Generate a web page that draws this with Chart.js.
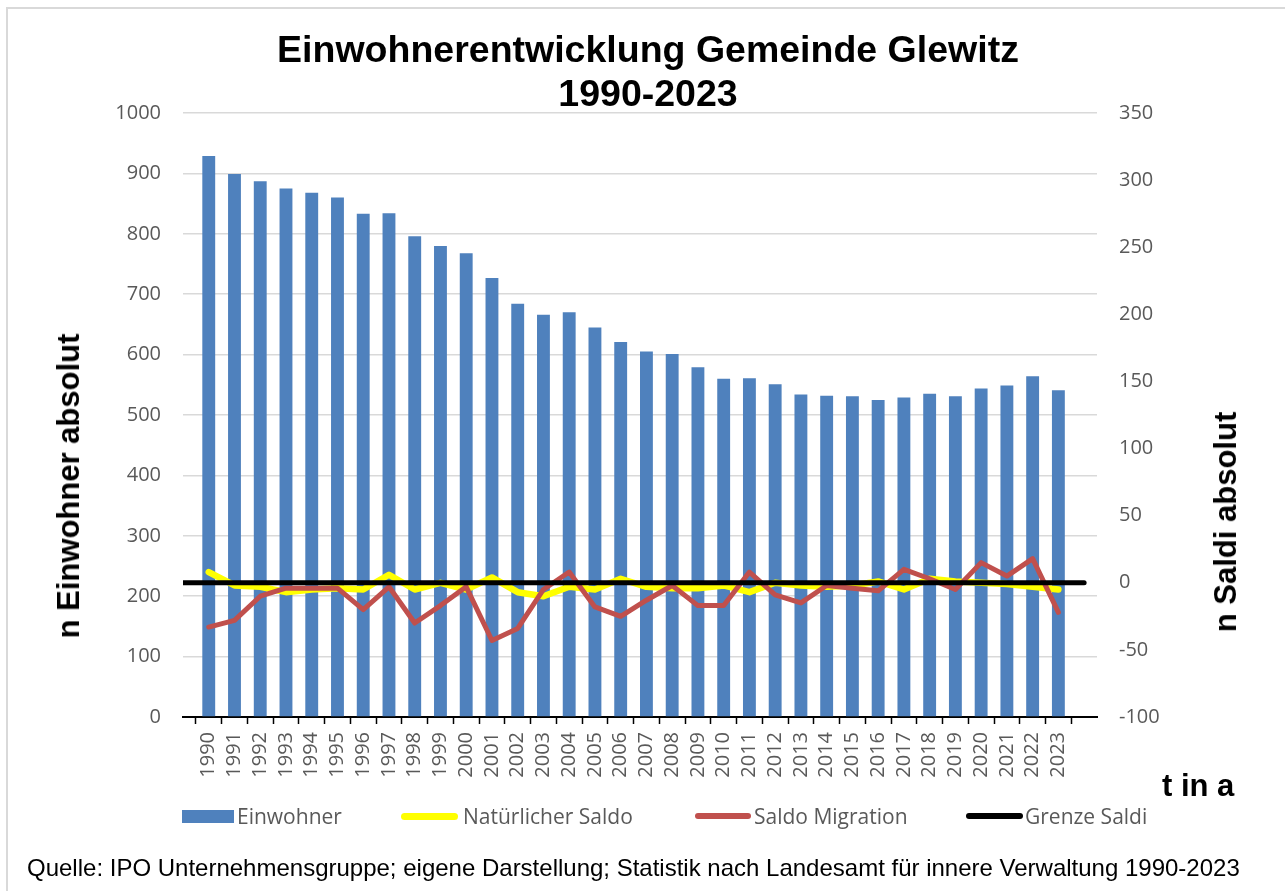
<!DOCTYPE html>
<html lang="de">
<head>
<meta charset="utf-8">
<title>Einwohnerentwicklung Gemeinde Glewitz 1990-2023</title>
<script src="https://cdn.jsdelivr.net/npm/chart.js@4.4.1/dist/chart.umd.min.js"></script>
<style>
  html, body { margin: 0; padding: 0; background: #fff; }
  #wrap { position: relative; width: 1285px; height: 891px; overflow: hidden; }
  #chart { position: absolute; left: 0; top: 0; }
  .frame { position: absolute; left: 6px; top: 7px; width: 1290px; height: 900px;
           border-left: 2px solid #d9d9d9; border-top: 2px solid #d9d9d9; }
  .title { position: absolute; left: 0; width: 1296px; text-align: center;
           font: bold 37.5px "Liberation Sans", Arial, sans-serif; line-height: 43px; color: #000; }
  .axTitle { position: absolute; font: bold 31px "Liberation Sans", Arial, sans-serif;
             color: #000; white-space: nowrap; line-height: 36px; }
  .legend { position: absolute; top: 803px; height: 26px; font: 21px "Open Sans", sans-serif;
            color: #595959; line-height: 26px; white-space: nowrap; }
  .sw { position: absolute; }
  .src { position: absolute; left: 27px; top: 854px; font: 24px "Liberation Sans", Arial, sans-serif;
         color: #000; line-height: 28px; white-space: nowrap; }
</style>
</head>
<body>
<div id="wrap">
  <div class="frame"></div>
  <canvas id="chart" width="1285" height="891"></canvas>
  <div class="title" style="top:28px">Einwohnerentwicklung Gemeinde Glewitz</div>
  <div class="title" style="top:72px">1990-2023</div>
  <div class="axTitle" style="left:69px; top:486px; transform: translate(-50%,-50%) rotate(-90deg);">n Einwohner absolut</div>
  <div class="axTitle" style="left:1226px; top:522px; transform: translate(-50%,-50%) rotate(-90deg);">n Saldi absolut</div>
  <div class="axTitle" style="left:1162px; top:768px;">t in a</div>

  <div id="legend"></div>
  <div class="src">Quelle: IPO Unternehmensgruppe; eigene Darstellung; Statistik nach Landesamt für innere Verwaltung 1990-2023</div>
</div>

<script>
// ------------------------------
// Data
// ------------------------------
const years = [1990, 1991, 1992, 1993, 1994, 1995, 1996, 1997, 1998, 1999,
               2000, 2001, 2002, 2003, 2004, 2005, 2006, 2007, 2008, 2009,
               2010, 2011, 2012, 2013, 2014, 2015, 2016, 2017, 2018, 2019,
               2020, 2021, 2022, 2023];

// Einwohner (left axis)
const einwohner = [929, 899, 887, 875, 868, 860, 833, 834, 796, 780,
                   768, 727, 684, 666, 670, 645, 621, 605, 601, 579,
                   560, 561, 551, 534, 532, 531, 525, 529, 535, 531,
                   544, 549, 564, 541];

// Natürlicher Saldo (right axis)
const natSaldo = [8, -2, -3, -7, -5, -4, -5, 6, -5, 0,
                  -5, 4, -7, -10, -3, -5, 3, -3, -4, -4,
                  -2, -7, 0, -2, -3, -2, 1, -5, 3, 1,
                  0, -1, -3, -5];

// Saldo Migration (right axis)
const saldoMigration = [-33, -28, -10, -4, -4, -4, -20, -3, -30, -17,
                        -3, -43, -34, -5, 8, -18, -25, -13, -2, -17,
                        -17, 8, -9, -15, -2, -4, -6, 10, 3, -5,
                        15, 5, 18, -22];

// Grenze Saldi: zero line across the whole category range (slot -1 .. 34)
const grenzeX = [-1, 34];
const grenzeY = [0, 0];

// axis ranges / ticks
const leftTicks = { min: 0, max: 1000, step: 100 };
const rightTicks = { min: -100, max: 350, step: 50 };

const colors = {
  einwohner: "#4F81BD",
  nat: "#FFFF00",
  migration: "#C0504D",
  grenze: "#000000"
};

// ------------------------------
// Chart
// ------------------------------
const toPoints = (vals) => vals.map((v, i) => ({ x: i, y: v }));
const tickFont = { family: "'Open Sans', sans-serif", size: 20 };
const plain = (v) => String(v);

new Chart(document.getElementById("chart"), {
  type: "bar",
  data: {
    datasets: [
      {
        label: "Einwohner",
        data: toPoints(einwohner),
        backgroundColor: colors.einwohner,
        borderWidth: 0,
        barPercentage: 0.5,
        categoryPercentage: 1,
        yAxisID: "y",
        order: 4
      },
      {
        type: "line",
        label: "Natürlicher Saldo",
        data: toPoints(natSaldo),
        borderColor: colors.nat,
        borderWidth: 6.5,
        pointRadius: 0,
        tension: 0,
        borderJoinStyle: "round",
        borderCapStyle: "round",
        yAxisID: "y2",
        order: 3
      },
      {
        type: "line",
        label: "Saldo Migration",
        data: toPoints(saldoMigration),
        borderColor: colors.migration,
        borderWidth: 5,
        pointRadius: 0,
        tension: 0,
        borderJoinStyle: "round",
        borderCapStyle: "round",
        yAxisID: "y2",
        order: 2
      },
      {
        type: "line",
        label: "Grenze Saldi",
        data: grenzeX.map((x, i) => ({ x, y: grenzeY[i] })),
        borderColor: colors.grenze,
        borderWidth: 5,
        pointRadius: 0,
        borderCapStyle: "round",
        yAxisID: "y2",
        order: 1
      }
    ]
  },
  options: {
    responsive: false,
    animation: false,
    devicePixelRatio: 1,
    layout: { padding: { left: 0, right: 0, top: 113, bottom: 0 } },
    plugins: {
      legend: { display: false },
      title: { display: false },
      tooltip: { enabled: false }
    },
    scales: {
      x: {
        type: "linear",
        offset: false,
        min: -1,
        max: 34.5,
        afterBuildTicks: (s) => { s.ticks = s.ticks.filter(t => Number.isInteger(t.value)); },
        afterFit: (s) => { s.height = 174; },
        ticks: {
          stepSize: 1,
          autoSkip: false,
          minRotation: 90,
          maxRotation: 90,
          padding: 8,
          color: "#595959",
          font: tickFont,
          callback: (v) => (v >= 0 && v < years.length ? String(years[v]) : "")
        },
        grid: {
          drawOnChartArea: false,
          drawTicks: true,
          tickLength: 7,
          tickColor: "#000",
          tickWidth: 1.5
        },
        border: { display: true, color: "#000", width: 2 }
      },
      y: {
        position: "left",
        min: leftTicks.min,
        max: leftTicks.max,
        afterFit: (s) => { s.width = 183; },
        ticks: { stepSize: leftTicks.step, padding: 22, color: "#595959", font: tickFont, callback: plain },
        grid: { color: "#d9d9d9", lineWidth: 1.5, drawTicks: false },
        border: { display: false }
      },
      y2: {
        position: "right",
        min: rightTicks.min,
        max: rightTicks.max,
        afterFit: (s) => { s.width = 188; },
        ticks: { stepSize: rightTicks.step, padding: 22, color: "#595959", font: tickFont, callback: plain },
        grid: { display: false, drawTicks: false },
        border: { display: false }
      }
    }
  }
});

// ------------------------------
// Legend (HTML, below the axis)
// ------------------------------
const legendItems = [
  { text: "Einwohner", color: colors.einwohner, sw: { left: 182, w: 52, h: 13, r: 0 }, textLeft: 237 },
  { text: "Natürlicher Saldo", color: colors.nat, sw: { left: 401, w: 57, h: 7, r: 4 }, textLeft: 463 },
  { text: "Saldo Migration", color: colors.migration, sw: { left: 695, w: 56, h: 6, r: 3 }, textLeft: 754 },
  { text: "Grenze Saldi", color: colors.grenze, sw: { left: 966, w: 57, h: 6, r: 3 }, textLeft: 1025 }
];
const legendEl = document.getElementById("legend");
legendItems.forEach(item => {
  const sw = document.createElement("div");
  sw.className = "sw";
  sw.style.left = item.sw.left + "px";
  sw.style.top = (816 - item.sw.h / 2) + "px";
  sw.style.width = item.sw.w + "px";
  sw.style.height = item.sw.h + "px";
  sw.style.borderRadius = item.sw.r + "px";
  sw.style.background = item.color;
  legendEl.appendChild(sw);

  const label = document.createElement("div");
  label.className = "legend";
  label.style.left = item.textLeft + "px";
  label.textContent = item.text;
  legendEl.appendChild(label);
});
</script>
</body>
</html>
